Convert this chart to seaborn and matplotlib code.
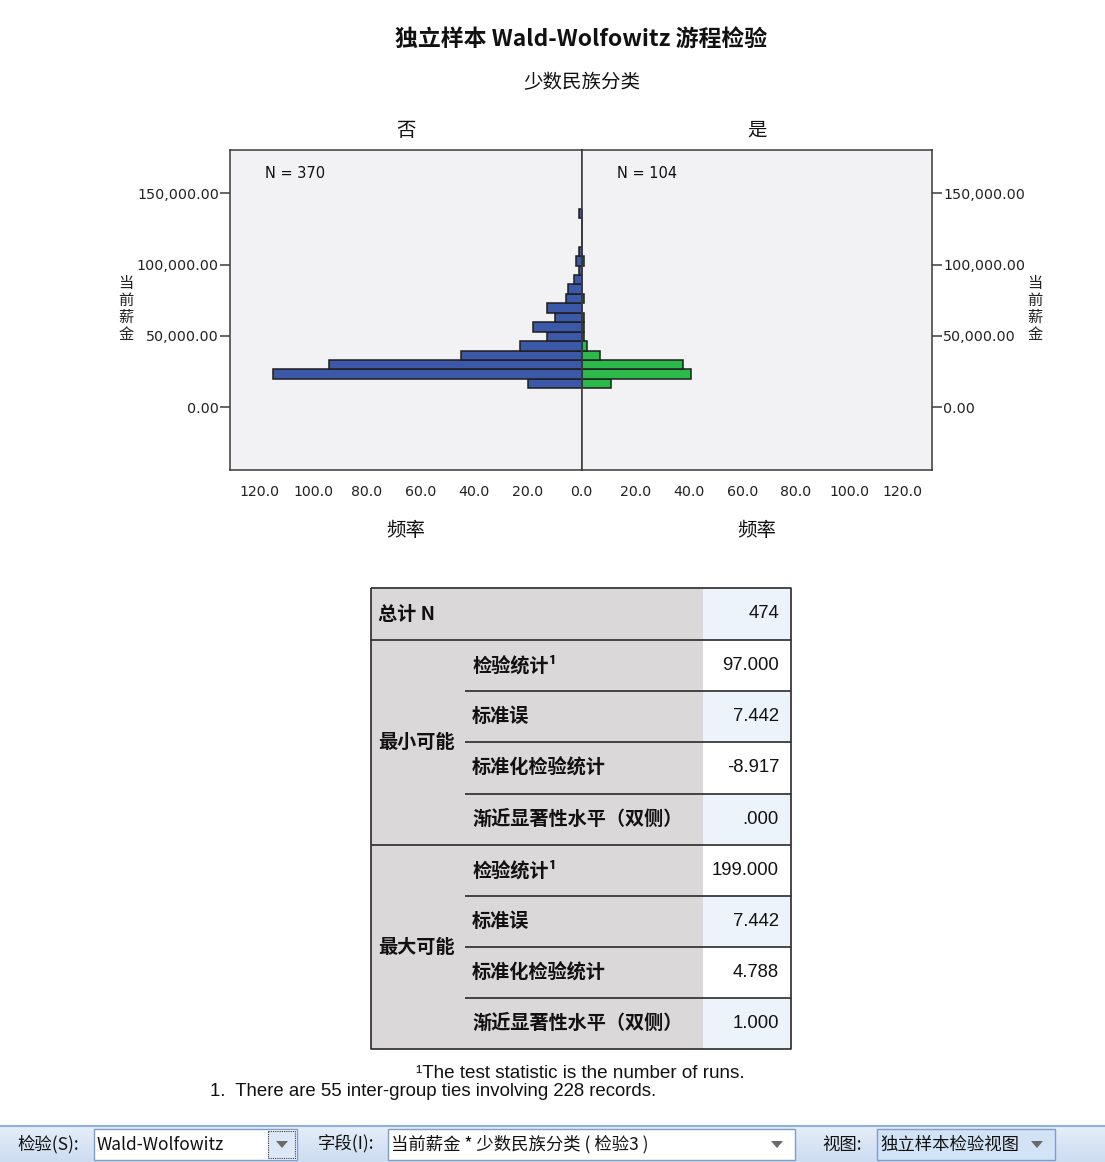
import numpy as np
import pandas as pd
import matplotlib
matplotlib.use("Agg")
import matplotlib.pyplot as plt
import seaborn as sns
from matplotlib.patches import Rectangle, Polygon
from matplotlib.ticker import FixedLocator, FuncFormatter

# ---------------- data ----------------
# 当前薪金 histogram bins (lower edge of first bin and bin width)
bin_start = 13300
bin_width = 6620
n_bins = 19
# frequency per salary bin, bottom to top
counts_no = [20, 115, 94, 45, 23, 13, 18, 10, 13, 6, 5, 3, 1, 2, 1, 0, 0, 0, 1]
counts_yes = [11, 41, 38, 7, 2, 1, 1, 1, 0, 1, 0, 0, 0, 1, 0, 0, 0, 0, 0]
group_names = ["否", "是"]
group_n = [370, 104]

y_ticks = [0, 50000, 100000, 150000]
x_ticks = [0, 20, 40, 60, 80, 100, 120]

# summary table
total_n = 474
block_names = ["最小可能", "最大可能"]
stat_labels = ["检验统计¹", "标准误", "标准化检验统计", "渐近显著性水平（双侧）"]
min_values = ["97.000", "7.442", "-8.917", ".000"]
max_values = ["199.000", "7.442", "4.788", "1.000"]

footnote_1 = "¹The test statistic is the number of runs."
footnote_2 = "1.  There are 55 inter-group ties involving 228 records."

# ---------------- style ----------------
sns.set_style("white")
plt.rcParams["font.family"] = ["Noto Sans CJK SC", "DejaVu Sans"]
plt.rcParams["axes.unicode_minus"] = False

BLUE = "#3b59a8"
GREEN = "#2cb94c"
PANEL_BG = "#f2f1f4"
FRAME = "#3a3a3a"
CJK = ["Noto Sans CJK SC", "DejaVu Sans"]
NUM = ["Liberation Sans", "DejaVu Sans"]

W, H = 1105, 1162
fig = plt.figure(figsize=(W / 100, H / 100), dpi=100)
fig.patch.set_facecolor("white")


def fig_rect(x0, y0, x1, y1):
    """pixel box (top-left origin) -> figure fraction rect"""
    return [x0 / W, 1 - y1 / H, (x1 - x0) / W, (y1 - y0) / H]


edges = [bin_start + bin_width * i for i in range(n_bins + 1)]
mids = [(a + b) / 2 for a, b in zip(edges[:-1], edges[1:])]
df = pd.DataFrame({
    "当前薪金": mids + mids,
    "频率": counts_no + counts_yes,
    "少数民族分类": [group_names[0]] * n_bins + [group_names[1]] * n_bins,
})

x_max = 131
y_lim = (-43900, 180300)
center_x = 581.7

ax_l = fig.add_axes(fig_rect(230, 150, center_x, 470))
ax_r = fig.add_axes(fig_rect(center_x, 150, 932, 470))

for ax, grp, col in [(ax_l, group_names[0], BLUE), (ax_r, group_names[1], GREEN)]:
    sub = df[df["少数民族分类"] == grp]
    sns.histplot(data=sub, y="当前薪金", weights="频率", bins=edges, ax=ax,
                 color=col, alpha=1, edgecolor="#1e1e1e", linewidth=1.1)
    ax.set_facecolor(PANEL_BG)
    ax.set_ylim(*y_lim)
    ax.set_xlabel("")
    ax.set_ylabel("")
    for s in ax.spines.values():
        s.set_visible(True)
        s.set_color(FRAME)
        s.set_linewidth(1.1)
    ax.yaxis.set_major_locator(FixedLocator(y_ticks))
    ax.yaxis.set_major_formatter(FuncFormatter(lambda v, p: f"{v:,.2f}"))
    ax.xaxis.set_major_locator(FixedLocator(x_ticks))
    ax.tick_params(axis="x", length=6, width=1.1, color=FRAME, pad=5,
                   labelsize=10.2, labelcolor="#222222")
    ax.tick_params(axis="y", length=7.5, width=1.1, color=FRAME, pad=0.5,
                   labelsize=10.3, labelcolor="#222222")

ax_l.set_xlim(x_max, 0)
ax_l.xaxis.set_major_formatter(FuncFormatter(lambda v, p: f"{v:.1f}"))
ax_l.tick_params(axis="y", left=True, right=False, labelleft=True, labelright=False)

ax_r.set_xlim(0, x_max)
ax_r.xaxis.set_major_formatter(FuncFormatter(lambda v, p: "" if v == 0 else f"{v:.1f}"))
ax_r.yaxis.tick_right()
ax_r.tick_params(axis="y", left=False, right=True, labelleft=False, labelright=True)
for ax in (ax_l, ax_r):
    for lab in ax.get_xticklabels() + ax.get_yticklabels():
        lab.set_family("DejaVu Sans")

# ---------------- overlay in pixel coordinates ----------------
ov = fig.add_axes([0, 0, 1, 1])
ov.set_xlim(0, W)
ov.set_ylim(H, 0)
ov.axis("off")
ov.patch.set_alpha(0)

ov.text(581, 39, "独立样本 Wald-Wolfowitz 游程检验", ha="center", va="center",
        fontsize=16.5, fontweight="bold", family=CJK, color="#111111")
ov.text(582, 83, "少数民族分类", ha="center", va="center", fontsize=14,
        family=CJK, color="#111111")

panel_centers = [(230 + center_x) / 2, (center_x + 932) / 2]
for cx, name, n in zip(panel_centers, group_names, group_n):
    ov.text(cx, 130, name, ha="center", va="center", fontsize=14,
            family=CJK, color="#111111")
    ov.text(cx, 530, "频率", ha="center", va="center", fontsize=14,
            family=CJK, color="#111111")
ov.text(265, 173, f"N = {group_n[0]}", ha="left", va="center", fontsize=10.5,
        family="DejaVu Sans", color="#111111")
ov.text(617, 173, f"N = {group_n[1]}", ha="left", va="center", fontsize=10.5,
        family="DejaVu Sans", color="#111111")

for xx in (126, 1035):
    ov.text(xx, 309, "当\n前\n薪\n金", ha="center", va="center", fontsize=11,
            linespacing=1.0, family=CJK, color="#222222")

# ---------------- table ----------------
T_L, T_C1, T_C2, T_R = 371, 465, 703, 791
row_edges = [588, 640, 691, 742, 794, 845, 896, 947, 998, 1049]
LABEL_BG = "#dbd8da"
VAL_BLUE = "#edf3fb"
VAL_WHITE = "#ffffff"

ov.add_patch(Rectangle((T_L, row_edges[0]), T_C2 - T_L, row_edges[-1] - row_edges[0],
                       facecolor=LABEL_BG, edgecolor="none"))
for i in range(9):
    y0, y1 = row_edges[i], row_edges[i + 1]
    ov.add_patch(Rectangle((T_C2, y0), T_R - T_C2, y1 - y0,
                           facecolor=VAL_BLUE if i % 2 == 0 else VAL_WHITE,
                           edgecolor="none"))

# grid lines
line_kw = dict(color="#2a2a2a", lw=1.2, solid_capstyle="butt")
ov.plot([T_L, T_R, T_R, T_L, T_L],
        [row_edges[0], row_edges[0], row_edges[-1], row_edges[-1], row_edges[0]], **line_kw)
for i in range(1, 9):
    y = row_edges[i]
    x0 = T_L if i in (1, 5) else T_C1
    ov.plot([x0, T_R], [y, y], **line_kw)

LBL_SIZE = 13.8
ov.text(378, (row_edges[0] + row_edges[1]) / 2, "总计 N", ha="left", va="center",
        fontsize=LBL_SIZE, fontweight="bold", family=CJK, color="#111111")
ov.text(779, (row_edges[0] + row_edges[1]) / 2, f"{total_n}", ha="right", va="center",
        fontsize=13.3, family=NUM, color="#111111")

for b, (bname, vals) in enumerate(zip(block_names, [min_values, max_values])):
    r0 = 1 + 4 * b
    ov.text(378, (row_edges[r0] + row_edges[r0 + 4]) / 2, bname, ha="left", va="center",
            fontsize=LBL_SIZE, fontweight="bold", family=CJK, color="#111111")
    for k, (lab, val) in enumerate(zip(stat_labels, vals)):
        yc = (row_edges[r0 + k] + row_edges[r0 + k + 1]) / 2
        ov.text(472, yc, lab, ha="left", va="center", fontsize=LBL_SIZE,
                fontweight="bold", family=CJK, color="#111111")
        ov.text(779, yc, val, ha="right", va="center", fontsize=13.3,
                family=NUM, color="#111111")

ov.text(580, 1074, footnote_1, ha="center", va="center", fontsize=13.6,
        family=NUM, color="#111111")
ov.text(210, 1091, footnote_2, ha="left", va="center", fontsize=13.4,
        family=NUM, color="#111111")

# ---------------- selector bar ----------------
grad = np.linspace(0, 1, 50).reshape(-1, 1)
bar_cmap = matplotlib.colors.LinearSegmentedColormap.from_list("bar", ["#e6eef9", "#ccdcf1"])
ov.imshow(grad, cmap=bar_cmap, extent=(0, W, H, 1126), aspect="auto", zorder=0)
ov.plot([0, W], [1126, 1126], color="#8fb0dc", lw=1.5)
ov.set_xlim(0, W)
ov.set_ylim(H, 0)

sel_font = ["Noto Sans CJK SC", "DejaVu Sans"]
SEL_SIZE = 12.5


def combo(x0, x1, text, bg="white", dotted=False):
    ov.add_patch(Rectangle((x0, 1129), x1 - x0, 31, facecolor=bg, edgecolor="#7f9dc6",
                           lw=1.0, zorder=2))
    ov.text(x0 + 3, 1144.5, text, ha="left", va="center", fontsize=SEL_SIZE,
            family=sel_font, color="#111111", zorder=3)
    ax_btn = x1 - 18
    if dotted:
        ov.add_patch(Rectangle((x1 - 29, 1131), 27, 27, facecolor="#dce8f7",
                               edgecolor="#333333", lw=0.8, ls=(0, (1, 1)), zorder=3))
        ax_btn = x1 - 15
    ov.add_patch(Polygon([[ax_btn - 6, 1141], [ax_btn + 6, 1141], [ax_btn, 1148]],
                         closed=True, facecolor="#6a6a6a", edgecolor="none", zorder=4))


ov.text(17, 1144.5, "检验(S):", ha="left", va="center", fontsize=SEL_SIZE,
        family=sel_font, color="#111111")
combo(94, 297, "Wald-Wolfowitz", dotted=True)
ov.text(318, 1144.5, "字段(I):", ha="left", va="center", fontsize=SEL_SIZE,
        family=sel_font, color="#111111")
combo(388, 795, "当前薪金 * 少数民族分类 ( 检验3 )")
ov.text(822, 1144.5, "视图:", ha="left", va="center", fontsize=SEL_SIZE,
        family=sel_font, color="#111111")
combo(877, 1055, "独立样本检验视图", bg="#d3e3f6")

fig.savefig("out.png", dpi=100, facecolor="white")
